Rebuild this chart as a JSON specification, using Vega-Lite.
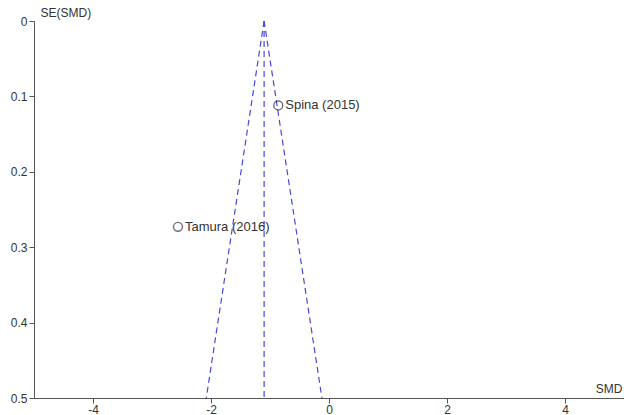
{
  "$schema": "https://vega.github.io/schema/vega-lite/v6.json",
  "autosize": {"type": "none"},
  "padding": {"left": 34, "top": 21, "right": 0, "bottom": 17},
  "width": 590,
  "height": 377,
  "background": "white",
  "config": {
    "view": {"stroke": null},
    "font": "Liberation Sans",
    "axis": {
      "grid": false,
      "domainColor": "#555555",
      "tickColor": "#555555",
      "labelColor": "#333333",
      "labelFont": "Liberation Sans",
      "labelFontSize": 12,
      "titleFont": "Liberation Sans",
      "titleFontSize": 12,
      "titleFontWeight": "normal",
      "titleColor": "#333333",
      "tickSize": 5
    }
  },
  "datasets": {
    "studies": [
      {"study": "Spina (2015)", "smd": -0.86, "se": 0.112},
      {"study": "Tamura (2016)", "smd": -2.56, "se": 0.273}
    ],
    "funnel": [
      {"line": "left", "o": 1, "smd": -1.1, "se": 0},
      {"line": "left", "o": 2, "smd": -2.08, "se": 0.5},
      {"line": "right", "o": 1, "smd": -1.1, "se": 0},
      {"line": "right", "o": 2, "smd": -0.12, "se": 0.5},
      {"line": "center", "o": 1, "smd": -1.1, "se": 0},
      {"line": "center", "o": 2, "smd": -1.1, "se": 0.5}
    ]
  },
  "layer": [
    {
      "data": {"name": "funnel"},
      "mark": {"type": "line", "color": "#4848dc", "strokeWidth": 1.2, "strokeDash": [6, 4]},
      "encoding": {
        "x": {
          "field": "smd", "type": "quantitative",
          "scale": {"domain": [-5, 5], "nice": false, "zero": false},
          "axis": {
            "values": [-4, -2, 0, 2, 4],
            "labelExpr": "'' + datum.value",
            "title": "SMD",
            "titleAngle": 0,
            "titleX": 588,
            "titleY": -6,
            "titleAlign": "right",
            "titleBaseline": "alphabetic",
            "labelPadding": 1
          }
        },
        "y": {
          "field": "se", "type": "quantitative",
          "scale": {"domain": [0, 0.5], "reverse": true, "nice": false, "zero": false},
          "axis": {
            "values": [0, 0.1, 0.2, 0.3, 0.4, 0.5],
            "labelExpr": "'' + datum.value",
            "title": "SE(SMD)",
            "titleAngle": 0,
            "titleX": 6,
            "titleY": -5,
            "titleAlign": "left",
            "titleBaseline": "alphabetic",
            "labelPadding": 2
          }
        },
        "detail": {"field": "line"},
        "order": {"field": "o"}
      }
    },
    {
      "data": {"name": "studies"},
      "mark": {"type": "point", "shape": "circle", "filled": false, "stroke": "#333333", "strokeWidth": 1.4, "size": 80},
      "encoding": {
        "x": {"field": "smd", "type": "quantitative"},
        "y": {"field": "se", "type": "quantitative"}
      }
    },
    {
      "data": {"name": "studies"},
      "mark": {"type": "text", "align": "left", "baseline": "middle", "dx": 7, "fontSize": 13, "color": "#333333", "font": "Liberation Sans"},
      "encoding": {
        "x": {"field": "smd", "type": "quantitative"},
        "y": {"field": "se", "type": "quantitative"},
        "text": {"field": "study"}
      }
    }
  ]
}
